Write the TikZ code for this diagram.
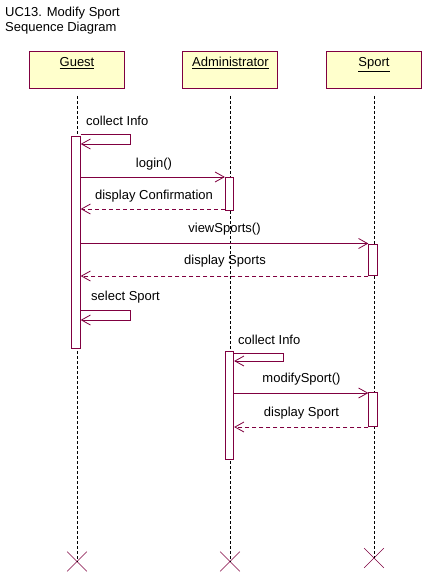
\documentclass[tikz,border=0pt]{standalone}
\usepackage{fontspec}
\setmainfont{Liberation Sans}
\usetikzlibrary{arrows.meta,shapes.misc}
\definecolor{umlline}{HTML}{800040}
\definecolor{umlfill}{HTML}{FFFFCC}
\tikzset{
  obj/.style={draw=umlline, fill=umlfill, line width=0.8pt, minimum width=95pt, minimum height=37pt, inner sep=0pt},
  act/.style={draw=umlline, fill=white, line width=0.8pt, minimum width=8.5pt, inner sep=0pt},
  life/.style={draw=black, dashed, dash pattern=on 3pt off 2pt, line width=0.7pt},
  msg/.style={draw=umlline, line width=0.8pt, -{Straight Barb[length=9pt,width=10pt,line width=0.8pt]}},
  ret/.style={msg, dash pattern=on 4pt off 3pt},
  lbl/.style={font=\fontsize{13}{15}\selectfont, inner sep=0pt, anchor=base},
  endx/.style={draw=umlline, cross out, minimum size=19pt, inner sep=0pt, line width=0.6pt}
}
\begin{document}
\begin{tikzpicture}[x=1pt,y=-1pt]
\useasboundingbox[fill=white] (0,0) rectangle (428,583);
% title
\node[lbl, anchor=base west] (t1) at (5,17) {UC13. Modify Sport};
\node[lbl, anchor=base west] (t2) at (5,32) {Sequence Diagram};
% objects
\node[obj] (g) at (76.5,69.5) {};
\node[obj] (a) at (229.5,69.5) {};
\node[obj] (s) at (373.5,69.5) {};
\node[lbl] (gl) at (77,67) {\underline{Guest}};
\node[lbl] (al) at (230.5,67) {\underline{Administrator}};
\node[lbl] (sl) at (374,67) {\underline{Sport}};
% lifeline ends
\node[endx] (gx) at (77,561.5) {};
\node[endx] (ax) at (230,561.5) {};
\node[endx] (sx) at (374,558) {};
\coordinate (gs) at (77,96);
\coordinate (as) at (230,96);
\coordinate (ss) at (374,96);
\draw[life] (gs) -- (gx.center);
\draw[life] (as) -- (ax.center);
\draw[life] (ss) -- (sx.center);
% activations
\node[act, minimum height=212pt] (ga) at (76,242) {};
\node[act, minimum height=33pt] (aa1) at (229.5,193.5) {};
\node[act, minimum height=31pt] (sa1) at (373,259.5) {};
\node[act, minimum height=108pt] (aa2) at (229.5,405) {};
\node[act, minimum height=34pt] (sa2) at (373,409.5) {};
% collect Info (guest)
\coordinate (c1) at (130,134);
\coordinate (c2) at (130,144);
\draw[msg] (ga.east |- c1) -- (c1) -- (c2) -- (ga.east |- c2);
\node[lbl, anchor=base west] (l1) at (86,125) {collect Info};
% login
\draw[msg] (ga.east |- 0,177) -- (aa1.west |- 0,177);
\node[lbl] (l2) at (154,167) {login()};
% display Confirmation
\draw[ret] (aa1.west |- 0,209) -- (ga.east |- 0,209);
\node[lbl] (l3) at (154,199) {display Confirmation};
% viewSports
\draw[msg] (ga.east |- 0,243.5) -- (sa1.west |- 0,243.5);
\node[lbl] (l4) at (224.5,232) {viewSports()};
% display Sports
\draw[ret] (sa1.west |- 0,276) -- (ga.east |- 0,276);
\node[lbl] (l5) at (225,264.5) {display Sports};
% select Sport
\coordinate (c3) at (130,310);
\coordinate (c4) at (130,320);
\draw[msg] (ga.east |- c3) -- (c3) -- (c4) -- (ga.east |- c4);
\node[lbl, anchor=base west] (l6) at (91,300) {select Sport};
% collect Info (admin)
\coordinate (c5) at (283,353);
\coordinate (c6) at (283,361);
\draw[msg] (aa2.east |- c5) -- (c5) -- (c6) -- (aa2.east |- c6);
\node[lbl, anchor=base west] (l7) at (238,344) {collect Info};
% modifySport
\draw[msg] (aa2.east |- 0,393) -- (sa2.west |- 0,393);
\node[lbl] (l8) at (301.5,382) {modifySport()};
% display Sport
\draw[ret] (sa2.west |- 0,427) -- (aa2.east |- 0,427);
\node[lbl] (l9) at (301.5,416) {display Sport};
\end{tikzpicture}
\end{document}
